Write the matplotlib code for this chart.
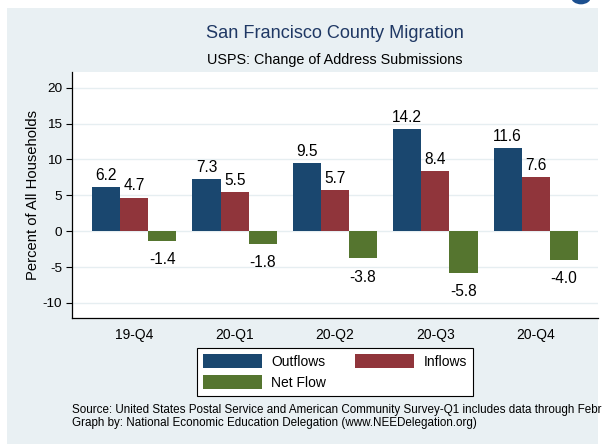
import numpy as np
import matplotlib.pyplot as plt
from matplotlib.patches import Rectangle, Circle

plt.rcParams['font.family'] = ['Liberation Sans', 'DejaVu Sans']

# Data
quarters = ['19-Q4', '20-Q1', '20-Q2', '20-Q3', '20-Q4']
outflows = [6.2, 7.3, 9.5, 14.2, 11.6]
inflows = [4.7, 5.5, 5.7, 8.4, 7.6]
net_flow = [-1.4, -1.8, -3.8, -5.8, -4.0]
y_ticks = [-10, -5, 0, 5, 10, 15, 20]

W, H = 605, 444
fig = plt.figure(figsize=(W / 100, H / 100), dpi=100)
fig.patch.set_facecolor('white')

def fx(px):
    return px / W

def fy(py):
    return 1 - py / H

# light bluish graph region + blue dot at top right
bg = '#E9F0F3'
fig.patches.append(Rectangle((fx(7), 0), fx(598) - fx(7), fy(8), transform=fig.transFigure,
                             facecolor=bg, edgecolor='none', zorder=-2))
fig.patches.append(Circle((fx(581), fy(-3)), 10 / W, transform=fig.transFigure,
                          facecolor='#1B4F8F', edgecolor='none', zorder=-1))

ax = fig.add_axes([fx(72), fy(318), fx(598) - fx(72), fy(72) - fy(318)])
ax.set_zorder(2)
ax.set_facecolor('white')

x = np.arange(len(quarters))
bw = 0.28
c_out, c_in, c_net = '#1A476F', '#90353B', '#55752F'

b1 = ax.bar(x - bw, outflows, bw, color=c_out, label='Outflows', zorder=3)
b2 = ax.bar(x, inflows, bw, color=c_in, label='Inflows', zorder=3)
b3 = ax.bar(x + bw, net_flow, bw, color=c_net, label='Net Flow', zorder=3)

for bars, vals in [(b1, outflows), (b2, inflows), (b3, net_flow)]:
    for rect, v in zip(bars, vals):
        cx = rect.get_x() + rect.get_width() / 2
        if v >= 0:
            ax.annotate('{:.1f}'.format(v), (cx, v), xytext=(0, 3), textcoords='offset points',
                        ha='center', va='bottom', fontsize=11.2)
        else:
            ax.annotate('{:.1f}'.format(v), (cx, v), xytext=(0, -8), textcoords='offset points',
                        ha='center', va='top', fontsize=11.2)

ax.set_xlim(-0.62, 4.62)
ax.set_ylim(-12.1, 22.2)
ax.set_yticks(y_ticks)
ax.set_yticklabels([str(t) for t in y_ticks], fontsize=9.7)
ax.set_xticks(x)
ax.set_xticklabels(quarters, fontsize=10)
ax.tick_params(axis='x', length=0, pad=7)
ax.tick_params(axis='y', length=4, width=0.8, pad=3)
ax.yaxis.grid(True, color='#E6EEF1', linewidth=1.0, zorder=0)
ax.set_axisbelow(True)
for s in ['top', 'right']:
    ax.spines[s].set_visible(False)
for s in ['left', 'bottom']:
    ax.spines[s].set_linewidth(0.9)
ax.set_ylabel('Percent of All Households', fontsize=10.6, labelpad=2)

fig.text(fx(335), fy(33), 'San Francisco County Migration', ha='center', va='center',
         fontsize=13.1, color='#1F3864')
fig.text(fx(335), fy(60), 'USPS: Change of Address Submissions', ha='center', va='center',
         fontsize=10.4)

leg = fig.legend(handles=[b1, b3, b2], labels=['Outflows', 'Net Flow', 'Inflows'], ncol=2,
                 loc='center', bbox_to_anchor=(fx(335), fy(372)), fontsize=10,
                 handlelength=4.2, handleheight=1.15, handletextpad=0.7, columnspacing=2.1,
                 labelspacing=0.45, borderpad=0.45, fancybox=False, framealpha=1,
                 edgecolor='black')
leg.get_frame().set_linewidth(0.8)
leg.set_zorder(3)

# the source line is cut at "Febr" in the original screenshot
fig.text(fx(72), fy(410), 'Source: United States Postal Service and American Community Survey-Q1 includes data through Febr',
         ha='left', va='center', fontsize=8.4)
fig.text(fx(72), fy(423), 'Graph by: National Economic Education Delegation (www.NEEDelegation.org)',
         ha='left', va='center', fontsize=8.4)

fig.savefig('out.png', dpi=100)
